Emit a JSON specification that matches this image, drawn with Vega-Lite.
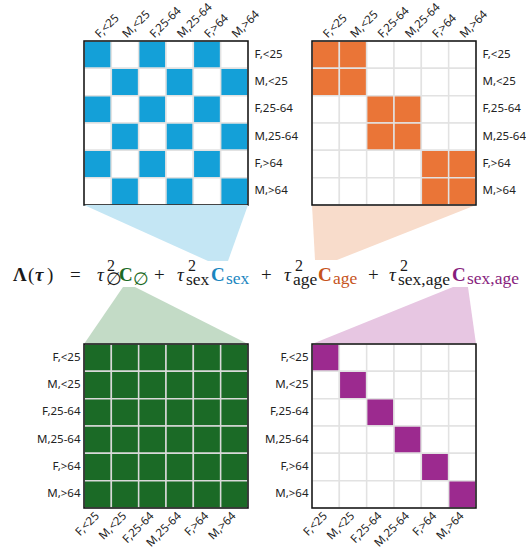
{
  "$schema": "https://vega.github.io/schema/vega-lite/v6.json",
  "padding": {"left": 13, "top": 0, "right": 0, "bottom": 0},
  "background": "white",
  "config": {
    "view": {"stroke": null},
    "axis": {"labelFont": "Noto Sans", "labelFontSize": 11.5, "labelColor": "#222222", "ticks": false, "domain": false, "grid": false, "labelOverlap": false}
  },
  "datasets": {
    "cells": [
      {"r":"F,<25","c":"F,<25","rs":"F","ra":"<25","cs":"F","ca":"<25"},
      {"r":"F,<25","c":"M,<25","rs":"F","ra":"<25","cs":"M","ca":"<25"},
      {"r":"F,<25","c":"F,25-64","rs":"F","ra":"<25","cs":"F","ca":"25-64"},
      {"r":"F,<25","c":"M,25-64","rs":"F","ra":"<25","cs":"M","ca":"25-64"},
      {"r":"F,<25","c":"F,>64","rs":"F","ra":"<25","cs":"F","ca":">64"},
      {"r":"F,<25","c":"M,>64","rs":"F","ra":"<25","cs":"M","ca":">64"},
      {"r":"M,<25","c":"F,<25","rs":"M","ra":"<25","cs":"F","ca":"<25"},
      {"r":"M,<25","c":"M,<25","rs":"M","ra":"<25","cs":"M","ca":"<25"},
      {"r":"M,<25","c":"F,25-64","rs":"M","ra":"<25","cs":"F","ca":"25-64"},
      {"r":"M,<25","c":"M,25-64","rs":"M","ra":"<25","cs":"M","ca":"25-64"},
      {"r":"M,<25","c":"F,>64","rs":"M","ra":"<25","cs":"F","ca":">64"},
      {"r":"M,<25","c":"M,>64","rs":"M","ra":"<25","cs":"M","ca":">64"},
      {"r":"F,25-64","c":"F,<25","rs":"F","ra":"25-64","cs":"F","ca":"<25"},
      {"r":"F,25-64","c":"M,<25","rs":"F","ra":"25-64","cs":"M","ca":"<25"},
      {"r":"F,25-64","c":"F,25-64","rs":"F","ra":"25-64","cs":"F","ca":"25-64"},
      {"r":"F,25-64","c":"M,25-64","rs":"F","ra":"25-64","cs":"M","ca":"25-64"},
      {"r":"F,25-64","c":"F,>64","rs":"F","ra":"25-64","cs":"F","ca":">64"},
      {"r":"F,25-64","c":"M,>64","rs":"F","ra":"25-64","cs":"M","ca":">64"},
      {"r":"M,25-64","c":"F,<25","rs":"M","ra":"25-64","cs":"F","ca":"<25"},
      {"r":"M,25-64","c":"M,<25","rs":"M","ra":"25-64","cs":"M","ca":"<25"},
      {"r":"M,25-64","c":"F,25-64","rs":"M","ra":"25-64","cs":"F","ca":"25-64"},
      {"r":"M,25-64","c":"M,25-64","rs":"M","ra":"25-64","cs":"M","ca":"25-64"},
      {"r":"M,25-64","c":"F,>64","rs":"M","ra":"25-64","cs":"F","ca":">64"},
      {"r":"M,25-64","c":"M,>64","rs":"M","ra":"25-64","cs":"M","ca":">64"},
      {"r":"F,>64","c":"F,<25","rs":"F","ra":">64","cs":"F","ca":"<25"},
      {"r":"F,>64","c":"M,<25","rs":"F","ra":">64","cs":"M","ca":"<25"},
      {"r":"F,>64","c":"F,25-64","rs":"F","ra":">64","cs":"F","ca":"25-64"},
      {"r":"F,>64","c":"M,25-64","rs":"F","ra":">64","cs":"M","ca":"25-64"},
      {"r":"F,>64","c":"F,>64","rs":"F","ra":">64","cs":"F","ca":">64"},
      {"r":"F,>64","c":"M,>64","rs":"F","ra":">64","cs":"M","ca":">64"},
      {"r":"M,>64","c":"F,<25","rs":"M","ra":">64","cs":"F","ca":"<25"},
      {"r":"M,>64","c":"M,<25","rs":"M","ra":">64","cs":"M","ca":"<25"},
      {"r":"M,>64","c":"F,25-64","rs":"M","ra":">64","cs":"F","ca":"25-64"},
      {"r":"M,>64","c":"M,25-64","rs":"M","ra":">64","cs":"M","ca":"25-64"},
      {"r":"M,>64","c":"F,>64","rs":"M","ra":">64","cs":"F","ca":">64"},
      {"r":"M,>64","c":"M,>64","rs":"M","ra":">64","cs":"M","ca":">64"}
    ],
    "shapes": [
      {"term":"sex","y":164,"xl":0,"xr":164},
      {"term":"sex","y":220,"xl":124,"xr":144},
      {"term":"age","y":164,"xl":228,"xr":392},
      {"term":"age","y":219,"xl":231,"xr":253},
      {"term":"empty","y":246,"xl":39,"xr":51},
      {"term":"empty","y":303,"xl":0,"xr":164},
      {"term":"sexage","y":246,"xl":369,"xr":384},
      {"term":"sexage","y":303,"xl":228,"xr":392}
    ],
    "formula": [
      {"t":"Λ","x":-71,"y":240,"role":"main","term":"plain","face":"bold"},
      {"t":"(","x":-56,"y":240,"role":"main","term":"plain","face":"normal"},
      {"t":"τ","x":-49,"y":240,"role":"main","term":"plain","face":"bolditalic"},
      {"t":")","x":-37,"y":240,"role":"main","term":"plain","face":"normal"},
      {"t":"=","x":-14,"y":240,"role":"main","term":"plain","face":"normal"},
      {"t":"τ","x":13,"y":240,"role":"main","term":"plain","face":"italic"},
      {"t":"2","x":23,"y":230,"role":"sup","term":"plain","face":"normal"},
      {"t":"∅","x":22,"y":244,"role":"sub","term":"plain","face":"normal"},
      {"t":"C","x":35,"y":240,"role":"main","term":"empty","face":"bold"},
      {"t":"∅","x":49,"y":244,"role":"sub","term":"empty","face":"normal"},
      {"t":"+","x":70,"y":240,"role":"main","term":"plain","face":"normal"},
      {"t":"τ","x":93,"y":240,"role":"main","term":"plain","face":"italic"},
      {"t":"2","x":104,"y":230,"role":"sup","term":"plain","face":"normal"},
      {"t":"sex","x":102,"y":244,"role":"sub","term":"plain","face":"normal"},
      {"t":"C","x":127,"y":240,"role":"main","term":"sex","face":"bold"},
      {"t":"sex","x":142,"y":243,"role":"sub","term":"sex","face":"normal"},
      {"t":"+","x":177,"y":240,"role":"main","term":"plain","face":"normal"},
      {"t":"τ","x":200,"y":240,"role":"main","term":"plain","face":"italic"},
      {"t":"2","x":211,"y":230,"role":"sup","term":"plain","face":"normal"},
      {"t":"age","x":209,"y":244,"role":"sub","term":"plain","face":"normal"},
      {"t":"C","x":234,"y":240,"role":"main","term":"age","face":"bold"},
      {"t":"age","x":249,"y":243,"role":"sub","term":"age","face":"normal"},
      {"t":"+","x":284,"y":240,"role":"main","term":"plain","face":"normal"},
      {"t":"τ","x":305,"y":240,"role":"main","term":"plain","face":"italic"},
      {"t":"2","x":316,"y":230,"role":"sup","term":"plain","face":"normal"},
      {"t":"sex,age","x":314,"y":244,"role":"sub","term":"plain","face":"normal"},
      {"t":"C","x":368,"y":240,"role":"main","term":"sexage","face":"bold"},
      {"t":"sex,age","x":383,"y":243,"role":"sub","term":"sexage","face":"normal"}
    ]
  },
  "concat": [
    {
      "width": 164, "height": 164,
      "resolve": {"scale": {"x": "independent", "y": "independent"}},
      "layer": [
        {
          "data": {"name": "cells"},
          "mark": {"type": "rect", "stroke": "#e2e2e2", "strokeWidth": 1.5},
          "encoding": {
            "x": {"field": "c", "type": "ordinal", "title": null, "sort": ["F,<25","M,<25","F,25-64","M,25-64","F,>64","M,>64"],
                  "axis": {"orient": "top", "labelAngle": -45, "labelAlign": "left", "labelBaseline": "middle", "labelPadding": 5}},
            "y": {"field": "r", "type": "ordinal", "title": null, "sort": ["F,<25","M,<25","F,25-64","M,25-64","F,>64","M,>64"],
                  "axis": {"orient": "right", "labelPadding": 6}},
            "color": {"condition": {"test": "datum.rs == datum.cs", "value": "#14a0d8"}, "value": "#ffffff"}
          }
        },
        {
          "data": {"values": [{}]},
          "mark": {"type": "rect", "filled": false, "stroke": "#111111", "strokeWidth": 1.5},
          "encoding": {"x": {"value": 0}, "x2": {"value": "width"}, "y": {"value": 0}, "y2": {"value": "height"}}
        },
        {
          "encoding": {
            "y": {"field": "y", "type": "quantitative", "scale": {"domain": [0, 164], "reverse": true, "nice": false, "zero": false}, "axis": null},
            "x": {"type": "quantitative", "scale": {"domain": [0, 164], "nice": false, "zero": false}, "axis": null}
          },
          "layer": [
            {
              "data": {"name": "shapes"},
              "mark": {"type": "area", "orient": "horizontal"},
              "encoding": {
                "x": {"field": "xl", "type": "quantitative"},
                "x2": {"field": "xr"},
                "fill": {"field": "term", "type": "nominal", "legend": null,
                         "scale": {"domain": ["sex","age","empty","sexage"], "range": ["#c4e6f4","#f8dccb","#c3dbc6","#e7c6e2"]}},
                "detail": {"field": "term"}
              }
            },
            {
              "data": {"name": "formula"},
              "encoding": {
                "x": {"field": "x", "type": "quantitative"},
                "text": {"field": "t"},
                "color": {"field": "term", "type": "nominal", "legend": null,
                          "scale": {"domain": ["plain","empty","sex","age","sexage"], "range": ["#1a1a1a","#1b6a25","#1b86bf","#c6531b","#871d7d"]}},
                "size": {"field": "role", "type": "ordinal", "legend": null,
                         "scale": {"domain": ["main","sub","sup"], "range": [19, 16, 13]}}
              },
              "layer": [
                {"transform": [{"filter": "datum.face == 'bold'"}],
                 "mark": {"type": "text", "font": "Liberation Serif", "fontWeight": "bold", "align": "left", "baseline": "alphabetic"}},
                {"transform": [{"filter": "datum.face == 'bolditalic'"}],
                 "mark": {"type": "text", "font": "Liberation Serif", "fontWeight": "bold", "fontStyle": "italic", "align": "left", "baseline": "alphabetic"}},
                {"transform": [{"filter": "datum.face == 'italic'"}],
                 "mark": {"type": "text", "font": "Liberation Serif", "fontStyle": "italic", "align": "left", "baseline": "alphabetic"}},
                {"transform": [{"filter": "datum.face == 'normal'"}],
                 "mark": {"type": "text", "font": "Liberation Serif", "align": "left", "baseline": "alphabetic"}}
              ]
            }
          ]
        }
      ]
    },
    {
      "width": 164, "height": 164,
      "layer": [
        {
          "data": {"name": "cells"},
          "mark": {"type": "rect", "stroke": "#e2e2e2", "strokeWidth": 1.5},
          "encoding": {
            "x": {"field": "c", "type": "ordinal", "title": null, "sort": ["F,<25","M,<25","F,25-64","M,25-64","F,>64","M,>64"],
                  "axis": {"orient": "top", "labelAngle": -45, "labelAlign": "left", "labelBaseline": "middle", "labelPadding": 5}},
            "y": {"field": "r", "type": "ordinal", "title": null, "sort": ["F,<25","M,<25","F,25-64","M,25-64","F,>64","M,>64"],
                  "axis": {"orient": "right", "labelPadding": 6}},
            "color": {"condition": {"test": "datum.ra == datum.ca", "value": "#ea7537"}, "value": "#ffffff"}
          }
        },
        {
          "data": {"values": [{}]},
          "mark": {"type": "rect", "filled": false, "stroke": "#111111", "strokeWidth": 1.5},
          "encoding": {"x": {"value": 0}, "x2": {"value": "width"}, "y": {"value": 0}, "y2": {"value": "height"}}
        }
      ]
    },
    {
      "width": 164, "height": 164,
      "layer": [
        {
          "data": {"name": "cells"},
          "mark": {"type": "rect", "stroke": "#d9d9d9", "strokeWidth": 1.5},
          "encoding": {
            "x": {"field": "c", "type": "ordinal", "title": null, "sort": ["F,<25","M,<25","F,25-64","M,25-64","F,>64","M,>64"],
                  "axis": {"orient": "bottom", "labelAngle": -45, "labelAlign": "right", "labelBaseline": "middle", "labelPadding": 6}},
            "y": {"field": "r", "type": "ordinal", "title": null, "sort": ["F,<25","M,<25","F,25-64","M,25-64","F,>64","M,>64"],
                  "axis": {"orient": "left", "labelPadding": 4}},
            "color": {"value": "#1b6a26"}
          }
        },
        {
          "data": {"values": [{}]},
          "mark": {"type": "rect", "filled": false, "stroke": "#111111", "strokeWidth": 1.5},
          "encoding": {"x": {"value": 0}, "x2": {"value": "width"}, "y": {"value": 0}, "y2": {"value": "height"}}
        }
      ]
    },
    {
      "width": 164, "height": 164,
      "layer": [
        {
          "data": {"name": "cells"},
          "mark": {"type": "rect", "stroke": "#e2e2e2", "strokeWidth": 1.5},
          "encoding": {
            "x": {"field": "c", "type": "ordinal", "title": null, "sort": ["F,<25","M,<25","F,25-64","M,25-64","F,>64","M,>64"],
                  "axis": {"orient": "bottom", "labelAngle": -45, "labelAlign": "right", "labelBaseline": "middle", "labelPadding": 6}},
            "y": {"field": "r", "type": "ordinal", "title": null, "sort": ["F,<25","M,<25","F,25-64","M,25-64","F,>64","M,>64"],
                  "axis": {"orient": "left", "labelPadding": 4}},
            "color": {"condition": {"test": "datum.r == datum.c", "value": "#9c2a8f"}, "value": "#ffffff"}
          }
        },
        {
          "data": {"values": [{}]},
          "mark": {"type": "rect", "filled": false, "stroke": "#111111", "strokeWidth": 1.5},
          "encoding": {"x": {"value": 0}, "x2": {"value": "width"}, "y": {"value": 0}, "y2": {"value": "height"}}
        }
      ]
    }
  ],
  "columns": 2,
  "spacing": {"row": 139, "column": 64},
  "bounds": "flush"
}
